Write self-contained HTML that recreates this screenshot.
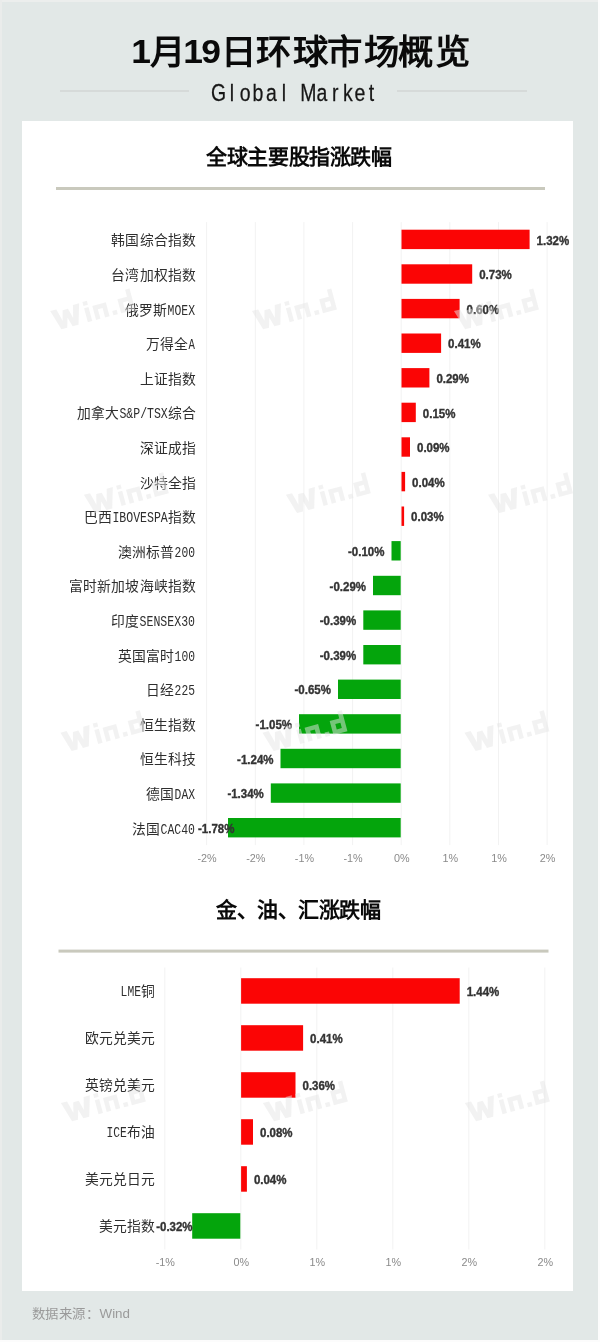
<!DOCTYPE html>
<html lang="zh-CN">
<head>
<meta charset="utf-8">
<title>1月19日环球市场概览</title>
<style>
html,body{margin:0;padding:0;background:#e2e8e7;}
body{width:600px;height:1342px;overflow:hidden;font-family:"Liberation Sans",sans-serif;}
svg{display:block;will-change:transform;}
text{font-family:"Liberation Sans",sans-serif;}
.title{font-size:34px;font-weight:bold;fill:#0a0a0a;}
.sub{font-size:24.3px;fill:#161616;stroke:#161616;stroke-width:.25px;}
.h2{font-size:21px;font-weight:bold;fill:#0a0a0a;}
.cj{font-size:13.6px;fill:#2e2e2e;}
.lt{font-family:"Liberation Mono",monospace;font-size:15px;fill:#2e2e2e;}
.val{font-size:12px;font-weight:bold;fill:#333333;stroke:#333333;stroke-width:.35px;}
.ax{font-size:10.8px;fill:#8a8a8a;}
.foot{font-size:12.8px;fill:#9a9a9a;}
</style>
</head>
<body>
<svg width="600" height="1342" viewBox="0 0 600 1342">

<rect x="0" y="0" width="600" height="1342" fill="#e2e8e7"/>
<rect x="0" y="0" width="600" height="2" fill="#eceeed"/>
<rect x="0" y="0" width="2" height="1342" fill="#eaeceb"/>
<rect x="598" y="0" width="2" height="1342" fill="#fcfcfc"/>
<rect x="0" y="1340" width="600" height="2" fill="#fcfcfc"/>
<rect x="22" y="121" width="551" height="1170" fill="#ffffff"/>
<text class="title" transform="scale(1.04,1)" x="126.2 144.2 176.2 193.6 212.2 245.9 281.3 314.8 350.1 382.3 418.2" y="63.5 64.5 63.5 63.5 64.5 64.5 64.5 64.5 64.5 64.5 64.5">1月19日环球市场概览</text>
<rect x="60" y="90.5" width="129" height="1" fill="#c9cccb"/>
<rect x="397" y="90.5" width="130" height="1" fill="#c9cccb"/>
<text class="sub" text-anchor="middle" transform="scale(0.8,1)" x="273.1 289.8 306.5 322.5 339.4 355.0 371.2 385.6 402.5 419.2 434.8 450.0 464.2" y="101">Global Market</text>
<text class="h2" x="206" y="164" textLength="186" lengthAdjust="spacing">全球主要股指涨跌幅</text>
<rect x="56" y="187" width="489" height="3" fill="#c9c9bd"/>
<rect x="206.1" y="222.1" width="1" height="623.0" fill="#f2f2f2"/>
<rect x="254.8" y="222.1" width="1" height="623.0" fill="#f2f2f2"/>
<rect x="303.4" y="222.1" width="1" height="623.0" fill="#f2f2f2"/>
<rect x="352.1" y="222.1" width="1" height="623.0" fill="#f2f2f2"/>
<rect x="400.7" y="222.1" width="1" height="623.0" fill="#f2f2f2"/>
<rect x="449.3" y="222.1" width="1" height="623.0" fill="#f2f2f2"/>
<rect x="498.0" y="222.1" width="1" height="623.0" fill="#f2f2f2"/>
<rect x="546.6" y="222.1" width="1" height="623.0" fill="#f2f2f2"/>
<rect x="401.5" y="229.7" width="128.1" height="19.4" fill="#fb0505"/>
<rect x="401.5" y="264.3" width="70.7" height="19.4" fill="#fb0505"/>
<rect x="401.5" y="298.9" width="58.1" height="19.4" fill="#fb0505"/>
<rect x="401.5" y="333.5" width="39.6" height="19.4" fill="#fb0505"/>
<rect x="401.5" y="368.1" width="27.9" height="19.4" fill="#fb0505"/>
<rect x="401.5" y="402.7" width="14.3" height="19.4" fill="#fb0505"/>
<rect x="401.5" y="437.3" width="8.5" height="19.4" fill="#fb0505"/>
<rect x="401.5" y="471.9" width="3.6" height="19.4" fill="#fb0505"/>
<rect x="401.5" y="506.5" width="2.6" height="19.4" fill="#fb0505"/>
<rect x="391.5" y="541.1" width="9.2" height="19.4" fill="#04a50c"/>
<rect x="373.0" y="575.8" width="27.7" height="19.4" fill="#04a50c"/>
<rect x="363.3" y="610.4" width="37.4" height="19.4" fill="#04a50c"/>
<rect x="363.3" y="645.0" width="37.4" height="19.4" fill="#04a50c"/>
<rect x="338.0" y="679.6" width="62.7" height="19.4" fill="#04a50c"/>
<rect x="299.0" y="714.2" width="101.7" height="19.4" fill="#04a50c"/>
<rect x="280.5" y="748.8" width="120.2" height="19.4" fill="#04a50c"/>
<rect x="270.8" y="783.4" width="129.9" height="19.4" fill="#04a50c"/>
<rect x="228.0" y="818.0" width="172.7" height="19.4" fill="#04a50c"/>
<g class="cat">
<text x="111.3" y="245.3" textLength="85.2" lengthAdjust="spacingAndGlyphs" class="cj">韩国综合指数</text>
</g>
<text class="val" x="536.6" y="245" textLength="32.6" lengthAdjust="spacingAndGlyphs">1.32%</text>
<g class="cat">
<text x="111.3" y="279.9" textLength="85.2" lengthAdjust="spacingAndGlyphs" class="cj">台湾加权指数</text>
</g>
<text class="val" x="479.2" y="279" textLength="32.6" lengthAdjust="spacingAndGlyphs">0.73%</text>
<g class="cat">
<text x="124.7" y="314.5" textLength="42.6" lengthAdjust="spacingAndGlyphs" class="cj">俄罗斯</text>
<text x="167.6" y="314.5" textLength="27.4" lengthAdjust="spacingAndGlyphs" class="lt">MOEX</text>
</g>
<text class="val" x="466.6" y="314" textLength="32.6" lengthAdjust="spacingAndGlyphs">0.60%</text>
<g class="cat">
<text x="145.7" y="349.1" textLength="42.6" lengthAdjust="spacingAndGlyphs" class="cj">万得全</text>
<text x="188.6" y="349.1" textLength="6.4" lengthAdjust="spacingAndGlyphs" class="lt">A</text>
</g>
<text class="val" x="448.1" y="348" textLength="32.6" lengthAdjust="spacingAndGlyphs">0.41%</text>
<g class="cat">
<text x="139.7" y="383.7" textLength="56.8" lengthAdjust="spacingAndGlyphs" class="cj">上证指数</text>
</g>
<text class="val" x="436.4" y="383" textLength="32.6" lengthAdjust="spacingAndGlyphs">0.29%</text>
<g class="cat">
<text x="76.5" y="418.3" textLength="42.6" lengthAdjust="spacingAndGlyphs" class="cj">加拿大</text>
<text x="119.4" y="418.3" textLength="48.4" lengthAdjust="spacingAndGlyphs" class="lt">S&amp;P/TSX</text>
<text x="168.1" y="418.3" textLength="28.4" lengthAdjust="spacingAndGlyphs" class="cj">综合</text>
</g>
<text class="val" x="422.8" y="418" textLength="32.6" lengthAdjust="spacingAndGlyphs">0.15%</text>
<g class="cat">
<text x="139.7" y="452.9" textLength="56.8" lengthAdjust="spacingAndGlyphs" class="cj">深证成指</text>
</g>
<text class="val" x="417.0" y="452" textLength="32.6" lengthAdjust="spacingAndGlyphs">0.09%</text>
<g class="cat">
<text x="139.7" y="487.5" textLength="56.8" lengthAdjust="spacingAndGlyphs" class="cj">沙特全指</text>
</g>
<text class="val" x="412.1" y="487" textLength="32.6" lengthAdjust="spacingAndGlyphs">0.04%</text>
<g class="cat">
<text x="83.7" y="522.1" textLength="28.4" lengthAdjust="spacingAndGlyphs" class="cj">巴西</text>
<text x="112.4" y="522.1" textLength="55.4" lengthAdjust="spacingAndGlyphs" class="lt">IBOVESPA</text>
<text x="168.1" y="522.1" textLength="28.4" lengthAdjust="spacingAndGlyphs" class="cj">指数</text>
</g>
<text class="val" x="411.1" y="521" textLength="32.6" lengthAdjust="spacingAndGlyphs">0.03%</text>
<g class="cat">
<text x="117.5" y="556.7" textLength="56.8" lengthAdjust="spacingAndGlyphs" class="cj">澳洲标普</text>
<text x="174.6" y="556.7" textLength="20.4" lengthAdjust="spacingAndGlyphs" class="lt">200</text>
</g>
<text class="val" x="348.0" y="556" textLength="36.4" lengthAdjust="spacingAndGlyphs">-0.10%</text>
<g class="cat">
<text x="68.7" y="591.4" textLength="127.8" lengthAdjust="spacingAndGlyphs" class="cj">富时新加坡海峡指数</text>
</g>
<text class="val" x="329.6" y="591" textLength="36.4" lengthAdjust="spacingAndGlyphs">-0.29%</text>
<g class="cat">
<text x="110.9" y="626.0" textLength="28.4" lengthAdjust="spacingAndGlyphs" class="cj">印度</text>
<text x="139.6" y="626.0" textLength="55.4" lengthAdjust="spacingAndGlyphs" class="lt">SENSEX30</text>
</g>
<text class="val" x="319.8" y="625" textLength="36.4" lengthAdjust="spacingAndGlyphs">-0.39%</text>
<g class="cat">
<text x="117.5" y="660.6" textLength="56.8" lengthAdjust="spacingAndGlyphs" class="cj">英国富时</text>
<text x="174.6" y="660.6" textLength="20.4" lengthAdjust="spacingAndGlyphs" class="lt">100</text>
</g>
<text class="val" x="319.8" y="660" textLength="36.4" lengthAdjust="spacingAndGlyphs">-0.39%</text>
<g class="cat">
<text x="145.9" y="695.2" textLength="28.4" lengthAdjust="spacingAndGlyphs" class="cj">日经</text>
<text x="174.6" y="695.2" textLength="20.4" lengthAdjust="spacingAndGlyphs" class="lt">225</text>
</g>
<text class="val" x="294.5" y="694" textLength="36.4" lengthAdjust="spacingAndGlyphs">-0.65%</text>
<g class="cat">
<text x="139.7" y="729.8" textLength="56.8" lengthAdjust="spacingAndGlyphs" class="cj">恒生指数</text>
</g>
<text class="val" x="255.6" y="729" textLength="36.4" lengthAdjust="spacingAndGlyphs">-1.05%</text>
<g class="cat">
<text x="139.7" y="764.4" textLength="56.8" lengthAdjust="spacingAndGlyphs" class="cj">恒生科技</text>
</g>
<text class="val" x="237.1" y="764" textLength="36.4" lengthAdjust="spacingAndGlyphs">-1.24%</text>
<g class="cat">
<text x="145.9" y="799.0" textLength="28.4" lengthAdjust="spacingAndGlyphs" class="cj">德国</text>
<text x="174.6" y="799.0" textLength="20.4" lengthAdjust="spacingAndGlyphs" class="lt">DAX</text>
</g>
<text class="val" x="227.4" y="798" textLength="36.4" lengthAdjust="spacingAndGlyphs">-1.34%</text>
<g class="cat">
<text x="131.9" y="833.6" textLength="28.4" lengthAdjust="spacingAndGlyphs" class="cj">法国</text>
<text x="160.6" y="833.6" textLength="34.4" lengthAdjust="spacingAndGlyphs" class="lt">CAC40</text>
</g>
<text class="val" x="198.0" y="833" textLength="36.4" lengthAdjust="spacingAndGlyphs">-1.78%</text>
<text class="ax" x="207.1" y="861.5" text-anchor="middle">-2%</text>
<text class="ax" x="255.8" y="861.5" text-anchor="middle">-2%</text>
<text class="ax" x="304.4" y="861.5" text-anchor="middle">-1%</text>
<text class="ax" x="353.1" y="861.5" text-anchor="middle">-1%</text>
<text class="ax" x="401.7" y="861.5" text-anchor="middle">0%</text>
<text class="ax" x="450.3" y="861.5" text-anchor="middle">1%</text>
<text class="ax" x="499.0" y="861.5" text-anchor="middle">1%</text>
<text class="ax" x="547.6" y="861.5" text-anchor="middle">2%</text>
<text class="h2" x="216" y="917" textLength="165" lengthAdjust="spacing">金、油、汇涨跌幅</text>
<rect x="58.5" y="949.6" width="490" height="3" fill="#c9c9bd"/>
<rect x="164.3" y="967.5" width="1" height="282.0" fill="#f2f2f2"/>
<rect x="240.3" y="967.5" width="1" height="282.0" fill="#f2f2f2"/>
<rect x="316.3" y="967.5" width="1" height="282.0" fill="#f2f2f2"/>
<rect x="392.3" y="967.5" width="1" height="282.0" fill="#f2f2f2"/>
<rect x="468.3" y="967.5" width="1" height="282.0" fill="#f2f2f2"/>
<rect x="544.3" y="967.5" width="1" height="282.0" fill="#f2f2f2"/>
<rect x="241.1" y="978.2" width="218.6" height="25.5" fill="#fb0505"/>
<rect x="241.1" y="1025.2" width="62.0" height="25.5" fill="#fb0505"/>
<rect x="241.1" y="1072.2" width="54.4" height="25.5" fill="#fb0505"/>
<rect x="241.1" y="1119.2" width="11.9" height="25.5" fill="#fb0505"/>
<rect x="241.1" y="1166.2" width="5.8" height="25.5" fill="#fb0505"/>
<rect x="192.2" y="1213.2" width="48.1" height="25.5" fill="#04a50c"/>
<g class="cat">
<text x="120.6" y="996.1" textLength="20.4" lengthAdjust="spacingAndGlyphs" class="lt">LME</text>
<text x="141.3" y="996.1" textLength="14.2" lengthAdjust="spacingAndGlyphs" class="cj">铜</text>
</g>
<text class="val" x="466.7" y="996" textLength="32.6" lengthAdjust="spacingAndGlyphs">1.44%</text>
<g class="cat">
<text x="84.5" y="1043.1" textLength="71.0" lengthAdjust="spacingAndGlyphs" class="cj">欧元兑美元</text>
</g>
<text class="val" x="310.1" y="1043" textLength="32.6" lengthAdjust="spacingAndGlyphs">0.41%</text>
<g class="cat">
<text x="84.5" y="1090.1" textLength="71.0" lengthAdjust="spacingAndGlyphs" class="cj">英镑兑美元</text>
</g>
<text class="val" x="302.5" y="1090" textLength="32.6" lengthAdjust="spacingAndGlyphs">0.36%</text>
<g class="cat">
<text x="106.4" y="1137.1" textLength="20.4" lengthAdjust="spacingAndGlyphs" class="lt">ICE</text>
<text x="127.1" y="1137.1" textLength="28.4" lengthAdjust="spacingAndGlyphs" class="cj">布油</text>
</g>
<text class="val" x="260.0" y="1137" textLength="32.6" lengthAdjust="spacingAndGlyphs">0.08%</text>
<g class="cat">
<text x="84.5" y="1184.1" textLength="71.0" lengthAdjust="spacingAndGlyphs" class="cj">美元兑日元</text>
</g>
<text class="val" x="253.9" y="1184" textLength="32.6" lengthAdjust="spacingAndGlyphs">0.04%</text>
<g class="cat">
<text x="98.7" y="1231.1" textLength="56.8" lengthAdjust="spacingAndGlyphs" class="cj">美元指数</text>
</g>
<text class="val" x="156.2" y="1231" textLength="36.4" lengthAdjust="spacingAndGlyphs">-0.32%</text>
<text class="ax" x="165.3" y="1266" text-anchor="middle">-1%</text>
<text class="ax" x="241.3" y="1266" text-anchor="middle">0%</text>
<text class="ax" x="317.3" y="1266" text-anchor="middle">1%</text>
<text class="ax" x="393.3" y="1266" text-anchor="middle">1%</text>
<text class="ax" x="469.3" y="1266" text-anchor="middle">2%</text>
<text class="ax" x="545.3" y="1266" text-anchor="middle">2%</text>
<g class="wmk" fill="#e6e6e6" opacity=".5" transform="translate(92.5,309.7) rotate(-15) translate(-41.25,10.85)"><title>Win.d</title><path d="M0 -20.5 H6.4 L9.6 -8 L12.2 -18 H17.8 L20.4 -8 L23.6 -20.5 H30 L23.9 0 H17.8 L15 -9.5 L12.2 0 H6.1 Z"/><rect x="33.5" y="-14.5" width="4.6" height="14.5"/><rect x="33.5" y="-21" width="4.6" height="4.2"/><path d="M42 0 V-14.5 H56 V0 H51.4 V-10 H46.6 V0 Z"/><rect x="60" y="-4.6" width="4.6" height="4.6"/><path fill-rule="evenodd" d="M68 -14.5 H77.9 V-21.7 H82.5 V0 H68 Z M72.6 -10 V-4.5 H77.9 V-10 Z"/></g>
<g class="wmk" fill="#e6e6e6" opacity=".5" transform="translate(294.3,309.7) rotate(-15) translate(-41.25,10.85)"><title>Win.d</title><path d="M0 -20.5 H6.4 L9.6 -8 L12.2 -18 H17.8 L20.4 -8 L23.6 -20.5 H30 L23.9 0 H17.8 L15 -9.5 L12.2 0 H6.1 Z"/><rect x="33.5" y="-14.5" width="4.6" height="14.5"/><rect x="33.5" y="-21" width="4.6" height="4.2"/><path d="M42 0 V-14.5 H56 V0 H51.4 V-10 H46.6 V0 Z"/><rect x="60" y="-4.6" width="4.6" height="4.6"/><path fill-rule="evenodd" d="M68 -14.5 H77.9 V-21.7 H82.5 V0 H68 Z M72.6 -10 V-4.5 H77.9 V-10 Z"/></g>
<g class="wmk" fill="#e6e6e6" opacity=".5" transform="translate(496.3,309.7) rotate(-15) translate(-41.25,10.85)"><title>Win.d</title><path d="M0 -20.5 H6.4 L9.6 -8 L12.2 -18 H17.8 L20.4 -8 L23.6 -20.5 H30 L23.9 0 H17.8 L15 -9.5 L12.2 0 H6.1 Z"/><rect x="33.5" y="-14.5" width="4.6" height="14.5"/><rect x="33.5" y="-21" width="4.6" height="4.2"/><path d="M42 0 V-14.5 H56 V0 H51.4 V-10 H46.6 V0 Z"/><rect x="60" y="-4.6" width="4.6" height="4.6"/><path fill-rule="evenodd" d="M68 -14.5 H77.9 V-21.7 H82.5 V0 H68 Z M72.6 -10 V-4.5 H77.9 V-10 Z"/></g>
<g class="wmk" fill="#e6e6e6" opacity=".5" transform="translate(126.2,493.5) rotate(-15) translate(-41.25,10.85)"><title>Win.d</title><path d="M0 -20.5 H6.4 L9.6 -8 L12.2 -18 H17.8 L20.4 -8 L23.6 -20.5 H30 L23.9 0 H17.8 L15 -9.5 L12.2 0 H6.1 Z"/><rect x="33.5" y="-14.5" width="4.6" height="14.5"/><rect x="33.5" y="-21" width="4.6" height="4.2"/><path d="M42 0 V-14.5 H56 V0 H51.4 V-10 H46.6 V0 Z"/><rect x="60" y="-4.6" width="4.6" height="4.6"/><path fill-rule="evenodd" d="M68 -14.5 H77.9 V-21.7 H82.5 V0 H68 Z M72.6 -10 V-4.5 H77.9 V-10 Z"/></g>
<g class="wmk" fill="#e6e6e6" opacity=".5" transform="translate(328.2,493.5) rotate(-15) translate(-41.25,10.85)"><title>Win.d</title><path d="M0 -20.5 H6.4 L9.6 -8 L12.2 -18 H17.8 L20.4 -8 L23.6 -20.5 H30 L23.9 0 H17.8 L15 -9.5 L12.2 0 H6.1 Z"/><rect x="33.5" y="-14.5" width="4.6" height="14.5"/><rect x="33.5" y="-21" width="4.6" height="4.2"/><path d="M42 0 V-14.5 H56 V0 H51.4 V-10 H46.6 V0 Z"/><rect x="60" y="-4.6" width="4.6" height="4.6"/><path fill-rule="evenodd" d="M68 -14.5 H77.9 V-21.7 H82.5 V0 H68 Z M72.6 -10 V-4.5 H77.9 V-10 Z"/></g>
<g class="wmk" fill="#e6e6e6" opacity=".5" transform="translate(530.4,493.5) rotate(-15) translate(-41.25,10.85)"><title>Win.d</title><path d="M0 -20.5 H6.4 L9.6 -8 L12.2 -18 H17.8 L20.4 -8 L23.6 -20.5 H30 L23.9 0 H17.8 L15 -9.5 L12.2 0 H6.1 Z"/><rect x="33.5" y="-14.5" width="4.6" height="14.5"/><rect x="33.5" y="-21" width="4.6" height="4.2"/><path d="M42 0 V-14.5 H56 V0 H51.4 V-10 H46.6 V0 Z"/><rect x="60" y="-4.6" width="4.6" height="4.6"/><path fill-rule="evenodd" d="M68 -14.5 H77.9 V-21.7 H82.5 V0 H68 Z M72.6 -10 V-4.5 H77.9 V-10 Z"/></g>
<g class="wmk" fill="#e6e6e6" opacity=".5" transform="translate(102.8,731.4) rotate(-15) translate(-41.25,10.85)"><title>Win.d</title><path d="M0 -20.5 H6.4 L9.6 -8 L12.2 -18 H17.8 L20.4 -8 L23.6 -20.5 H30 L23.9 0 H17.8 L15 -9.5 L12.2 0 H6.1 Z"/><rect x="33.5" y="-14.5" width="4.6" height="14.5"/><rect x="33.5" y="-21" width="4.6" height="4.2"/><path d="M42 0 V-14.5 H56 V0 H51.4 V-10 H46.6 V0 Z"/><rect x="60" y="-4.6" width="4.6" height="4.6"/><path fill-rule="evenodd" d="M68 -14.5 H77.9 V-21.7 H82.5 V0 H68 Z M72.6 -10 V-4.5 H77.9 V-10 Z"/></g>
<g class="wmk" fill="#e6e6e6" opacity=".5" transform="translate(304.8,731.4) rotate(-15) translate(-41.25,10.85)"><title>Win.d</title><path d="M0 -20.5 H6.4 L9.6 -8 L12.2 -18 H17.8 L20.4 -8 L23.6 -20.5 H30 L23.9 0 H17.8 L15 -9.5 L12.2 0 H6.1 Z"/><rect x="33.5" y="-14.5" width="4.6" height="14.5"/><rect x="33.5" y="-21" width="4.6" height="4.2"/><path d="M42 0 V-14.5 H56 V0 H51.4 V-10 H46.6 V0 Z"/><rect x="60" y="-4.6" width="4.6" height="4.6"/><path fill-rule="evenodd" d="M68 -14.5 H77.9 V-21.7 H82.5 V0 H68 Z M72.6 -10 V-4.5 H77.9 V-10 Z"/></g>
<g class="wmk" fill="#e6e6e6" opacity=".5" transform="translate(506.8,731.4) rotate(-15) translate(-41.25,10.85)"><title>Win.d</title><path d="M0 -20.5 H6.4 L9.6 -8 L12.2 -18 H17.8 L20.4 -8 L23.6 -20.5 H30 L23.9 0 H17.8 L15 -9.5 L12.2 0 H6.1 Z"/><rect x="33.5" y="-14.5" width="4.6" height="14.5"/><rect x="33.5" y="-21" width="4.6" height="4.2"/><path d="M42 0 V-14.5 H56 V0 H51.4 V-10 H46.6 V0 Z"/><rect x="60" y="-4.6" width="4.6" height="4.6"/><path fill-rule="evenodd" d="M68 -14.5 H77.9 V-21.7 H82.5 V0 H68 Z M72.6 -10 V-4.5 H77.9 V-10 Z"/></g>
<g class="wmk" fill="#e6e6e6" opacity=".5" transform="translate(103.2,1101.7) rotate(-15) translate(-41.25,10.85)"><title>Win.d</title><path d="M0 -20.5 H6.4 L9.6 -8 L12.2 -18 H17.8 L20.4 -8 L23.6 -20.5 H30 L23.9 0 H17.8 L15 -9.5 L12.2 0 H6.1 Z"/><rect x="33.5" y="-14.5" width="4.6" height="14.5"/><rect x="33.5" y="-21" width="4.6" height="4.2"/><path d="M42 0 V-14.5 H56 V0 H51.4 V-10 H46.6 V0 Z"/><rect x="60" y="-4.6" width="4.6" height="4.6"/><path fill-rule="evenodd" d="M68 -14.5 H77.9 V-21.7 H82.5 V0 H68 Z M72.6 -10 V-4.5 H77.9 V-10 Z"/></g>
<g class="wmk" fill="#e6e6e6" opacity=".5" transform="translate(305.2,1101.7) rotate(-15) translate(-41.25,10.85)"><title>Win.d</title><path d="M0 -20.5 H6.4 L9.6 -8 L12.2 -18 H17.8 L20.4 -8 L23.6 -20.5 H30 L23.9 0 H17.8 L15 -9.5 L12.2 0 H6.1 Z"/><rect x="33.5" y="-14.5" width="4.6" height="14.5"/><rect x="33.5" y="-21" width="4.6" height="4.2"/><path d="M42 0 V-14.5 H56 V0 H51.4 V-10 H46.6 V0 Z"/><rect x="60" y="-4.6" width="4.6" height="4.6"/><path fill-rule="evenodd" d="M68 -14.5 H77.9 V-21.7 H82.5 V0 H68 Z M72.6 -10 V-4.5 H77.9 V-10 Z"/></g>
<g class="wmk" fill="#e6e6e6" opacity=".5" transform="translate(507.2,1101.7) rotate(-15) translate(-41.25,10.85)"><title>Win.d</title><path d="M0 -20.5 H6.4 L9.6 -8 L12.2 -18 H17.8 L20.4 -8 L23.6 -20.5 H30 L23.9 0 H17.8 L15 -9.5 L12.2 0 H6.1 Z"/><rect x="33.5" y="-14.5" width="4.6" height="14.5"/><rect x="33.5" y="-21" width="4.6" height="4.2"/><path d="M42 0 V-14.5 H56 V0 H51.4 V-10 H46.6 V0 Z"/><rect x="60" y="-4.6" width="4.6" height="4.6"/><path fill-rule="evenodd" d="M68 -14.5 H77.9 V-21.7 H82.5 V0 H68 Z M72.6 -10 V-4.5 H77.9 V-10 Z"/></g>
<text class="foot" x="31.5" y="1317.8" textLength="98.5" lengthAdjust="spacingAndGlyphs">数据来源：Wind</text>
</svg>
</body>
</html>
